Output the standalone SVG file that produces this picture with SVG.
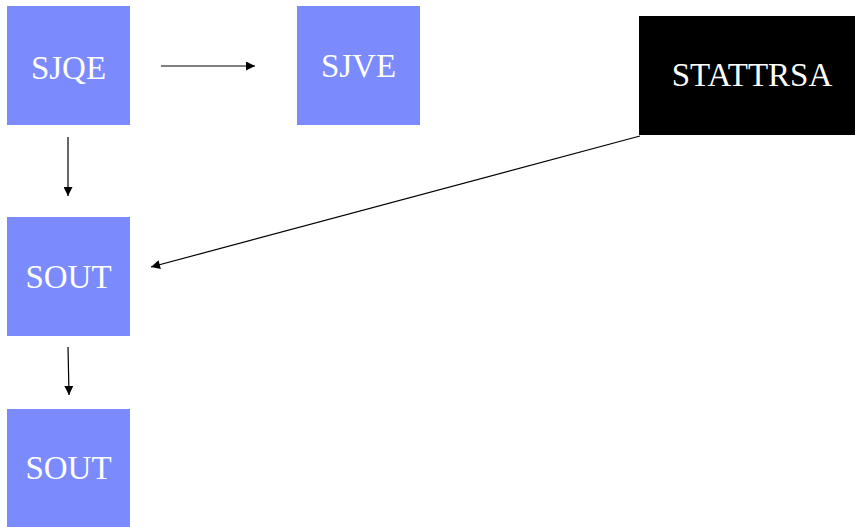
<svg xmlns="http://www.w3.org/2000/svg" width="855" height="527" viewBox="0 0 855 527">
  <style>
    .box { fill: #7b8afc; }
    .dark { fill: #000000; }
    .lbl { font-family: "Liberation Serif", "Times New Roman", serif; font-size: 33px; fill: #ffffff; text-anchor: middle; }
    .edge { stroke: #000000; stroke-width: 1.2; fill: none; marker-end: url(#head); }
  </style>
  <defs>
    <marker id="head" viewBox="0 0 10 10" refX="10" refY="5" markerWidth="10" markerHeight="9" markerUnits="userSpaceOnUse" orient="auto">
      <path d="M0,0 L10,5 L0,10 z" fill="#000000"/>
    </marker>
  </defs>
  <rect width="855" height="527" fill="#ffffff"/>
  <g id="connectors">
    <line class="edge" x1="161" y1="66" x2="255" y2="66"/>
    <line class="edge" x1="68" y1="137" x2="68" y2="196"/>
    <line class="edge" x1="68" y1="347" x2="69" y2="395"/>
    <line class="edge" x1="640" y1="136" x2="151" y2="267"/>
  </g>
  <g id="SJQE">
    <rect class="box" x="7" y="6" width="123" height="119"/>
    <text class="lbl" x="68.5" y="79">SJQE</text>
  </g>
  <g id="SJVE">
    <rect class="box" x="297" y="6" width="123" height="119"/>
    <text class="lbl" x="358.5" y="77">SJVE</text>
  </g>
  <g id="STATTRSA">
    <rect class="dark" x="639" y="16" width="216" height="119"/>
    <text class="lbl" x="752" y="86" font-size="31">STATTRSA</text>
  </g>
  <g id="SOUT1">
    <rect class="box" x="7" y="217" width="123" height="119"/>
    <text class="lbl" x="68.5" y="288">SOUT</text>
  </g>
  <g id="SOUT2">
    <rect class="box" x="7" y="409" width="123" height="118"/>
    <text class="lbl" x="68.5" y="479">SOUT</text>
  </g>
</svg>
